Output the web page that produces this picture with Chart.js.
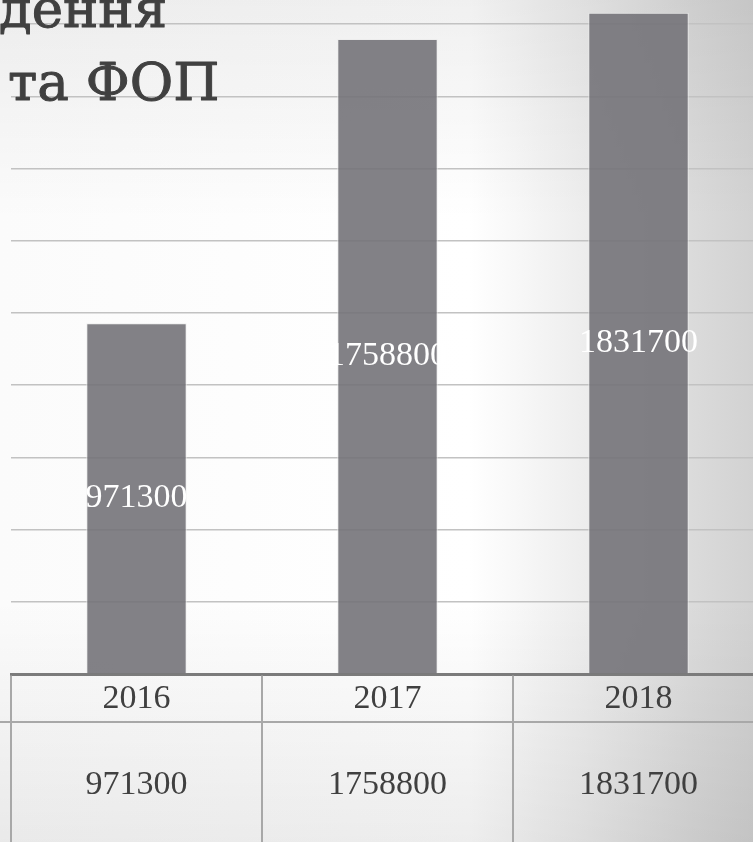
<!DOCTYPE html>
<html lang="uk">
<head>
<meta charset="utf-8">
<title>Надходження та ФОП</title>
<script src="https://cdn.jsdelivr.net/npm/chart.js"></script>
<style>
    html, body { margin: 0; padding: 0; width: 753px; height: 842px; overflow: hidden; }
    body {
        position: relative;
        background:
            linear-gradient(to bottom, rgba(0,0,0,0.06) 0, rgba(0,0,0,0) 220px, rgba(0,0,0,0) 600px, rgba(0,0,0,0.07) 842px),
            linear-gradient(to right, #fbfbfb 0, #ffffff 470px, #ececec 590px, #dbdbdb 690px, #d2d2d2 753px);
    }
    /* графік обрізаний зверху: полотно зсунуте вгору */
    #wrap { position: absolute; left: 0; top: -48px; width: 765px; height: 890px; }
</style>
</head>
<body>
<div id="wrap"><canvas id="chart" width="765" height="890" style="width:765px;height:890px"></canvas></div>
<script>
// Дані
const years = ['2016', '2017', '2018'];
const receipts = [971300, 1758800, 1831700];
const titleLines = ['дення', 'та ФОП'];
const yStep = 200000;
const yMax = 2000000;

const shift = 48; // на скільки полотно зсунуте вгору
const textColor = '#404040';
const serif = '"Liberation Serif", "Times New Roman", serif';

// --- заголовок слайда (частково обрізаний) ---
const titlePlugin = {
    id: 'slideTitle',
    afterDraw(chart) {
        const ctx = chart.ctx;
        ctx.save();
        ctx.font = '53px "DejaVu Serif", serif';
        ctx.textAlign = 'left';
        ctx.textBaseline = 'alphabetic';
        ctx.fillStyle = textColor;
        ctx.strokeStyle = textColor;
        ctx.lineWidth = 1;
        ctx.lineJoin = 'round';
        titleLines.forEach((line, i) => {
            const x = i === 0 ? -1 : 8;
            const y = (i === 0 ? 27 : 100) + shift;
            ctx.strokeText(line, x, y);
            ctx.fillText(line, x, y);
        });
        ctx.restore();
    }
};

// --- підписи значень у стовпцях ---
const barLabels = {
    id: 'barLabels',
    afterDatasetsDraw(chart) {
        const ctx = chart.ctx;
        const meta = chart.getDatasetMeta(0);
        ctx.save();
        ctx.fillStyle = '#ffffff';
        ctx.font = '34px ' + serif;
        ctx.textAlign = 'center';
        ctx.textBaseline = 'middle';
        meta.data.forEach((bar, i) => {
            ctx.fillText(String(receipts[i]), bar.x, (bar.y + bar.base) / 2);
        });
        ctx.restore();
    }
};

// --- таблиця даних під графіком ---
const dataTable = {
    id: 'dataTable',
    afterDraw(chart) {
        const { ctx, chartArea, scales: { x } } = chart;
        const half = (x.getPixelForValue(1) - x.getPixelForValue(0)) / 2;
        const top = chartArea.bottom;
        const split = top + 48;
        const bottom = chart.height;

        ctx.save();
        ctx.strokeStyle = '#a8a8a8';
        ctx.lineWidth = 2;
        ctx.beginPath();
        ctx.moveTo(0, split);
        ctx.lineTo(chart.width, split);
        years.forEach((yr, i) => {
            const left = x.getPixelForValue(i) - half;
            ctx.moveTo(left, top + 1.5);
            ctx.lineTo(left, bottom);
        });
        const lastRight = x.getPixelForValue(years.length - 1) + half;
        ctx.moveTo(lastRight, top + 1.5);
        ctx.lineTo(lastRight, bottom);
        ctx.stroke();

        ctx.fillStyle = textColor;
        ctx.font = '34px ' + serif;
        ctx.textAlign = 'center';
        ctx.textBaseline = 'middle';
        years.forEach((yr, i) => {
            const cx = x.getPixelForValue(i);
            ctx.fillText(yr, cx, top + 25);
            ctx.fillText(String(receipts[i]), cx, split + 63);
        });
        ctx.restore();
    }
};

new Chart(document.getElementById('chart'), {
    type: 'bar',
    data: {
        labels: years,
        datasets: [{
            data: receipts,
            backgroundColor: 'rgba(116, 115, 121, 0.9)',
            borderColor: 'rgba(236, 236, 236, 0.9)',
            borderWidth: 1,
            barPercentage: 0.4,
            categoryPercentage: 1.0
        }]
    },
    options: {
        responsive: false,
        animation: false,
        layout: { padding: { left: 11, right: 1, top: 0, bottom: 168 } },
        plugins: {
            legend: { display: false },
            tooltip: { enabled: false },
            title: { display: false }
        },
        scales: {
            x: {
                grid: { display: false, drawTicks: false },
                ticks: { display: false },
                border: { display: true, color: '#7b7b7b', width: 3 }
            },
            y: {
                min: 0,
                max: yMax,
                ticks: { display: false, stepSize: yStep },
                grid: {
                    drawTicks: false,
                    lineWidth: 1.5,
                    color: c => (c.tick && c.tick.value > 0) ? '#c2c2c2' : 'rgba(0,0,0,0)'
                },
                border: { display: false }
            }
        }
    },
    plugins: [barLabels, dataTable, titlePlugin]
});
</script>
</body>
</html>
